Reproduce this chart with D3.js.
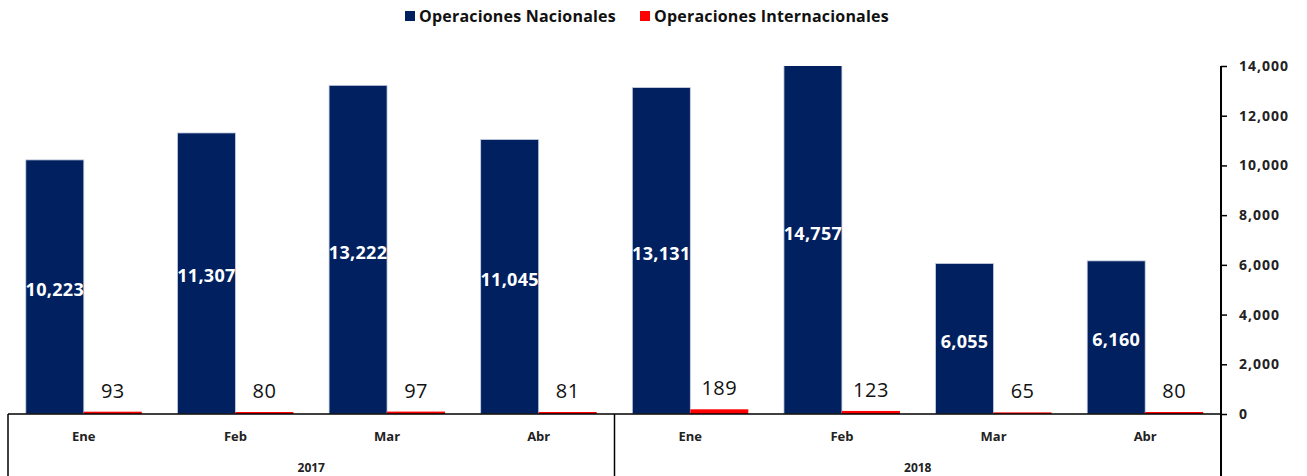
<!DOCTYPE html>
<html>
<head>
<meta charset="utf-8">
<script src="https://cdn.jsdelivr.net/npm/d3@7"></script>
<style>
  body { margin: 0; background: #fff; }
  text { font-family: "Open Sans", "Noto Sans", sans-serif; }
</style>
</head>
<body>
<script>
// data
const months = ["Ene", "Feb", "Mar", "Abr", "Ene", "Feb", "Mar", "Abr"];
const years = ["2017", "2018"];
const nacionales = [10223, 11307, 13222, 11045, 13131, 14757, 6055, 6160];
const internacionales = [93, 80, 97, 81, 189, 123, 65, 80];
const yTicks = [0, 2000, 4000, 6000, 8000, 10000, 12000, 14000];

const w = 1307, h = 476;
const plotLeft = 8, plotRight = 1221, plotTop = 66, base = 414;

const svg = d3.select("body").append("svg")
  .attr("width", w)
  .attr("height", h);

const idx = months.map((m, i) => i);

const x = d3.scaleBand()
  .domain(idx)
  .range([plotLeft, plotRight])
  .paddingInner(0)
  .paddingOuter(0);

const yScale = d3.scaleLinear()
  .domain([0, 14000])
  .range([base, plotTop]);

const bw = 58;
const fmt = d3.format(",");

svg.append("defs").append("clipPath").attr("id", "plot")
  .append("rect")
  .attr("x", plotLeft).attr("y", plotTop)
  .attr("width", plotRight - plotLeft).attr("height", base - plotTop);

const plot = svg.append("g").attr("clip-path", "url(#plot)");

// nacionales bars
plot.selectAll(".nac")
  .data(nacionales)
  .enter()
  .append("rect")
  .attr("class", "nac")
  .attr("x", (d, i) => x(i) + x.bandwidth() / 2 - bw)
  .attr("y", d => yScale(d))
  .attr("width", bw)
  .attr("height", d => base - yScale(d))
  .attr("fill", "#002060")
  .attr("stroke", "#c9d0e2")
  .attr("stroke-width", 0.8);

// internacionales bars
plot.selectAll(".int")
  .data(internacionales)
  .enter()
  .append("rect")
  .attr("class", "int")
  .attr("x", (d, i) => x(i) + x.bandwidth() / 2)
  .attr("y", d => yScale(d))
  .attr("width", bw)
  .attr("height", d => base - yScale(d))
  .attr("fill", "#ff0000");

// labels inside nacionales
svg.selectAll(".nacLabel")
  .data(nacionales)
  .enter()
  .append("text")
  .attr("x", (d, i) => x(i) + x.bandwidth() / 2 - bw / 2)
  .attr("y", d => (yScale(d) + base) / 2 + 9)
  .attr("text-anchor", "middle")
  .attr("fill", "white")
  .style("font-size", "18px")
  .style("font-weight", "bold")
  .style("letter-spacing", "0.3px")
  .text(d => fmt(d));

// labels above internacionales
svg.selectAll(".intLabel")
  .data(internacionales)
  .enter()
  .append("text")
  .attr("x", (d, i) => x(i) + x.bandwidth() / 2 + bw / 2)
  .attr("y", d => yScale(d) - 14)
  .attr("text-anchor", "middle")
  .attr("fill", "#111")
  .style("font-size", "20px")
  .style("letter-spacing", "0.5px")
  .text(d => fmt(d));

// right axis
const yAxis = d3.axisRight(yScale)
  .tickValues(yTicks)
  .tickFormat(fmt)
  .tickSize(6)
  .tickPadding(12);

const yAxisG = svg.append("g")
  .attr("transform", `translate(${plotRight},0)`)
  .call(yAxis);

yAxisG.select(".domain").remove();
yAxisG.selectAll(".tick line").attr("stroke", "#000").attr("stroke-width", 1.5);
yAxisG.selectAll(".tick text")
  .attr("fill", "#222")
  .style("font-size", "14px")
  .style("font-weight", "bold")
  .style("letter-spacing", "1px");

svg.append("line")
  .attr("x1", plotRight).attr("x2", plotRight)
  .attr("y1", plotTop).attr("y2", h)
  .attr("stroke", "#000").attr("stroke-width", 2);

// bottom axis with two levels
svg.append("line")
  .attr("x1", plotLeft).attr("x2", plotRight)
  .attr("y1", base).attr("y2", base)
  .attr("stroke", "#000").attr("stroke-width", 1.5);

[0, 4].forEach(i => {
  svg.append("line")
    .attr("x1", x(i)).attr("x2", x(i))
    .attr("y1", base).attr("y2", h)
    .attr("stroke", "#000").attr("stroke-width", 1.5);
});

svg.selectAll(".month")
  .data(months)
  .enter()
  .append("text")
  .attr("x", (d, i) => x(i) + x.bandwidth() / 2)
  .attr("y", 441)
  .attr("text-anchor", "middle")
  .attr("fill", "#222")
  .style("font-size", "13px")
  .style("font-weight", "bold")
  .text(d => d);

svg.selectAll(".year")
  .data(years)
  .enter()
  .append("text")
  .attr("x", (d, i) => (x(i * 4) + (i === 0 ? x(4) : plotRight)) / 2)
  .attr("y", 472)
  .attr("text-anchor", "middle")
  .attr("fill", "#222")
  .style("font-size", "12px")
  .style("font-weight", "bold")
  .text(d => d);

// legend
const legend = [
  { name: "Operaciones Nacionales", color: "#002060", x: 405 },
  { name: "Operaciones Internacionales", color: "#ff0000", x: 640 }
];
legend.forEach(l => {
  svg.append("rect")
    .attr("x", l.x).attr("y", 11)
    .attr("width", 10).attr("height", 10)
    .attr("fill", l.color);
  svg.append("text")
    .attr("x", l.x + 14).attr("y", 22)
    .attr("fill", "#111")
    .style("font-size", "16px")
    .style("font-weight", "bold")
    .style("letter-spacing", "0.2px")
    .text(l.name);
});
</script>
</body>
</html>
